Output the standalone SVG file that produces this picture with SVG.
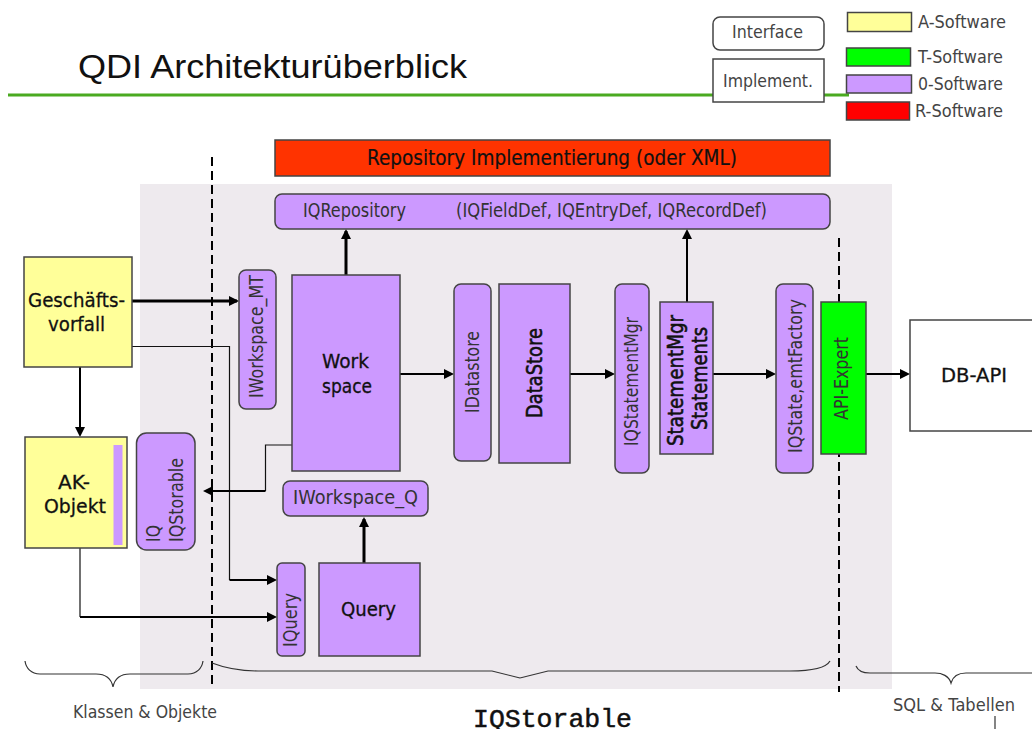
<svg xmlns="http://www.w3.org/2000/svg" width="1032" height="729" viewBox="0 0 1032 729">
<style>
text{font-family:"DejaVu Sans",sans-serif;fill:#333;font-size:19px}
.box{stroke:#444;stroke-width:1.5}
.o{fill:#cc99ff}.a{fill:#ffff99}.w{fill:#fff}
.s{font-size:20px;fill:#111;stroke:#111;stroke-width:.3}
.s2{font-size:22px;fill:#111;stroke:#111;stroke-width:.6}
.leg{font-size:18px;fill:#444}
.c{fill:none;stroke:#000;stroke-width:2}
.t{fill:none;stroke:#000;stroke-width:3}
.n{fill:none;stroke:#111;stroke-width:1.2}
.d{fill:none;stroke:#000;stroke-width:2;stroke-dasharray:9 5}
.br{fill:none;stroke:#333;stroke-width:1.2}
</style>
<defs>
<marker id="ah" markerUnits="userSpaceOnUse" markerWidth="11" markerHeight="10" refX="8" refY="5" orient="auto"><path d="M0 0L10 5L0 10Z" fill="#000"/></marker>
</defs>
<rect width="1032" height="729" fill="#fff"/>
<rect x="140" y="184" width="752" height="505" fill="#eeeaee"/>
<path d="M8 95H849" fill="none" stroke="#4aaa20" stroke-width="3"/>
<text x="78" y="78" style="font-family:'Liberation Sans',Arial,sans-serif;font-size:34px;fill:#111" textLength="389" lengthAdjust="spacingAndGlyphs">QDI Architekturüberblick</text>
<g id="connectors">
<path class="d" d="M212 157V686"/>
<path class="d" d="M839 238V692"/>
<path class="t" d="M132 301H237" marker-end="url(#ah)"/>
<path class="n" d="M132 346.500H229.500V580"/>
<path class="c" d="M229.500 580H275" marker-end="url(#ah)"/>
<path class="c" d="M80 367V435" marker-end="url(#ah)"/>
<path class="n" d="M80 548V617"/>
<path class="c" d="M80 617H275" marker-end="url(#ah)"/>
<path class="t" d="M346 275V231" marker-end="url(#ah)"/>
<path class="c" d="M400 374H452" marker-end="url(#ah)"/>
<path class="c" d="M570 374H613" marker-end="url(#ah)"/>
<path class="c" d="M713 374H774" marker-end="url(#ah)"/>
<path class="c" d="M866 374H908" marker-end="url(#ah)"/>
<path class="c" d="M687 302V231" marker-end="url(#ah)"/>
<path class="t" d="M364 563V519" marker-end="url(#ah)"/>
<path class="n" d="M292 445H265.500V491"/>
<path class="c" d="M265.500 491H205" marker-end="url(#ah)"/>
</g>
<g id="legend-interface"><rect class="box w" x="713" y="17" width="111" height="33" rx="7"/><text class="leg" x="732" y="38" textLength="71" lengthAdjust="spacingAndGlyphs">Interface</text></g>
<g id="legend-implement"><rect class="box w" x="713" y="59" width="111" height="43"/><text class="leg" x="723" y="87" textLength="90" lengthAdjust="spacingAndGlyphs">Implement.</text></g>
<g id="legend-a"><rect class="box a" x="847.500" y="12.500" width="64" height="19"/><text class="leg" x="918" y="28" textLength="88" lengthAdjust="spacingAndGlyphs">A-Software</text></g>
<g id="legend-t"><rect class="box" fill="#00ff00" x="846.500" y="48" width="64" height="18"/><text class="leg" x="918" y="63" textLength="85" lengthAdjust="spacingAndGlyphs">T-Software</text></g>
<g id="legend-o"><rect class="box o" x="846.500" y="75" width="65" height="18"/><text class="leg" x="918" y="90" textLength="85" lengthAdjust="spacingAndGlyphs">0-Software</text></g>
<g id="legend-r"><rect class="box" fill="#ff0000" x="846.500" y="102" width="63" height="18"/><text class="leg" x="915" y="117" textLength="88" lengthAdjust="spacingAndGlyphs">R-Software</text></g>
<g id="repository-impl"><rect class="box" fill="#ff3300" x="275" y="140" width="555" height="36"/><text x="367" y="165" style="font-size:21px;fill:#111;stroke:#111;stroke-width:.2" textLength="370" lengthAdjust="spacingAndGlyphs">Repository Implementierung (oder XML)</text></g>
<g id="iqrepository"><rect class="box o" x="275" y="194" width="555" height="35" rx="7"/><text x="303" y="217" textLength="103" lengthAdjust="spacingAndGlyphs">IQRepository</text><text x="456" y="217" textLength="311" lengthAdjust="spacingAndGlyphs">(IQFieldDef, IQEntryDef, IQRecordDef)</text></g>
<g id="geschaeftsvorfall"><rect class="box a" x="24" y="257" width="108" height="110"/><text class="s" x="28" y="307" textLength="97" lengthAdjust="spacingAndGlyphs">Geschäfts-</text><text class="s" x="48" y="331" textLength="57" lengthAdjust="spacingAndGlyphs">vorfall</text></g>
<g id="ak-objekt"><rect class="box a" x="25" y="437" width="102" height="111"/><rect class="o" x="113.500" y="445" width="9" height="100"/><text class="s" x="58" y="489" textLength="32" lengthAdjust="spacingAndGlyphs">AK-</text><text class="s" x="44" y="513" textLength="62" lengthAdjust="spacingAndGlyphs">Objekt</text></g>
<g id="iqstorable-if"><rect class="box o" x="136.500" y="433" width="58.500" height="117" rx="10"/><text transform="translate(160,542) rotate(-90)" textLength="17" lengthAdjust="spacingAndGlyphs">IQ</text><text transform="translate(183,542) rotate(-90)" textLength="84" lengthAdjust="spacingAndGlyphs">IQStorable</text></g>
<g id="iworkspace-mt"><rect class="box o" x="239" y="270" width="37" height="139" rx="7"/><text transform="translate(263,398) rotate(-90)" textLength="123" lengthAdjust="spacingAndGlyphs">IWorkspace_MT</text></g>
<g id="workspace"><rect class="box o" x="292" y="275" width="108" height="196"/><text class="s" x="322" y="368" textLength="47" lengthAdjust="spacingAndGlyphs">Work</text><text class="s" x="322" y="393" textLength="50" lengthAdjust="spacingAndGlyphs">space</text></g>
<g id="iworkspace-q"><rect class="box o" x="283" y="481" width="145" height="35" rx="7"/><text x="293" y="504" textLength="125" lengthAdjust="spacingAndGlyphs">IWorkspace_Q</text></g>
<g id="iquery"><rect class="box o" x="277" y="563" width="28" height="93" rx="5"/><text transform="translate(297,647) rotate(-90)" textLength="54" lengthAdjust="spacingAndGlyphs">IQuery</text></g>
<g id="query"><rect class="box o" x="319" y="563" width="101" height="93"/><text class="s" x="341" y="616" textLength="55" lengthAdjust="spacingAndGlyphs">Query</text></g>
<g id="idatastore"><rect class="box o" x="454" y="284" width="37" height="177" rx="7"/><text transform="translate(479,413) rotate(-90)" textLength="82" lengthAdjust="spacingAndGlyphs">IDatastore</text></g>
<g id="datastore"><rect class="box o" x="499" y="284" width="71" height="179"/><text class="s2" transform="translate(542,418) rotate(-90)" textLength="90" lengthAdjust="spacingAndGlyphs">DataStore</text></g>
<g id="iqstatementmgr"><rect class="box o" x="615" y="284" width="34" height="189" rx="7"/><text transform="translate(638,446) rotate(-90)" textLength="129" lengthAdjust="spacingAndGlyphs">IQStatementMgr</text></g>
<g id="statementmgr"><rect class="box o" x="660" y="302" width="53" height="152"/><text class="s2" transform="translate(683,446) rotate(-90)" textLength="131" lengthAdjust="spacingAndGlyphs">StatementMgr</text><text class="s2" transform="translate(707,430) rotate(-90)" textLength="103" lengthAdjust="spacingAndGlyphs">Statements</text></g>
<g id="iqstatementfactory"><rect class="box o" x="776" y="284" width="37" height="189" rx="7"/><text transform="translate(802,453) rotate(-90)" textLength="154" lengthAdjust="spacingAndGlyphs">IQState,emtFactory</text></g>
<g id="api-expert"><rect class="box" fill="#00ff00" x="821" y="302" width="45" height="152"/><text transform="translate(848,420) rotate(-90)" textLength="83" lengthAdjust="spacingAndGlyphs">API-Expert</text></g>
<g id="db-api"><rect class="box w" x="910" y="320" width="130" height="111"/><text class="s" x="941" y="382" textLength="66" lengthAdjust="spacingAndGlyphs">DB-API</text></g>
<g id="braces">
<path class="br" d="M25 661C26 668 31 674 40 674H96C104 674 111 677 113 687C115 677 122 674 130 674H188C197 674 202 668 203 661"/>
<path class="br" d="M212 663C225 668 240 671 258 671H492L520 678L548 671H790C810 671 826 668 830 661"/>
<path class="br" d="M856 666C858 671 862 673 870 673H935C942 673 949 676 951 683C953 676 959 673 966 673H1032"/>
<path class="br" d="M995 716V729"/>
</g>
<text class="leg" x="73" y="718" style="font-size:17px" textLength="144" lengthAdjust="spacingAndGlyphs">Klassen &amp; Objekte</text>
<text class="leg" x="893" y="711" textLength="122" lengthAdjust="spacingAndGlyphs">SQL &amp; Tabellen</text>
<text x="473" y="727" style="font-family:'Liberation Mono',monospace;font-size:26px;fill:#111;stroke:#111;stroke-width:.5" textLength="159" lengthAdjust="spacingAndGlyphs">IQStorable</text>
</svg>
